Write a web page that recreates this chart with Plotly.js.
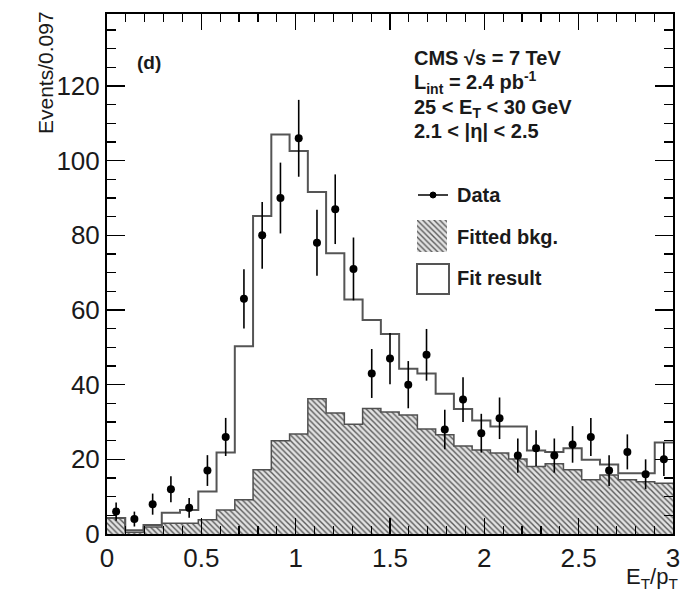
<!DOCTYPE html>
<html>
<head>
<meta charset="utf-8">
<script src="https://cdn.plot.ly/plotly-3.0.1.min.js"></script>
<style>
  html, body { margin: 0; padding: 0; background: #fff; }
  #chart { width: 690px; height: 596px; }
</style>
</head>
<body>
<div id="chart"></div>
<script>
// ---- data (31 bins of width 0.097 in E_T/p_T from 0 to 3) ----
const xMin = 0, xMax = 3, nBins = 31;
const dataCounts = [6, 4, 8, 12, 7, 17, 26, 63, 80, 90, 106, 78, 87, 71, 43, 47,
                    40, 48, 28, 36, 27, 31, 21, 23, 21, 24, 26, 17, 22, 16, 20];
const fitResult  = [4.3, 1, 2.4, 5.7, 6.4, 11.4, 21.8, 50.3, 85.2, 107, 102.6, 91.6, 75.2, 62.8, 57.3, 53.6,
                    44.3, 43, 37.6, 33.5, 30.4, 28.8, 28.8, 22.4, 22, 23, 19.9, 18.6, 16.3, 16.3, 24.5];
const fittedBkg  = [4.3, 0.5, 1.9, 2.9, 2.9, 3.8, 6.4, 9.2, 17.2, 25, 26.8, 36.2, 32.4, 29.4, 33.6, 32.7,
                    31.9, 28.1, 26.6, 23.6, 22.5, 21.7, 20.1, 18.1, 18.8, 17.2, 14.5, 15.8, 14.5, 14, 13.6];
const xTickVals = [0, 0.5, 1, 1.5, 2, 2.5, 3];
const xTickText = ['0', '0.5', '1', '1.5', '2', '2.5', '3'];
const yTickVals = [0, 20, 40, 60, 80, 100, 120];
const yTickText = ['0', '20', '40', '60', '80', '100', '120'];

// ---- derived bin geometry ----
const binW = (xMax - xMin) / nBins;
const centers = dataCounts.map((_, i) => xMin + (i + 0.5) * binW);
const edges = Array.from({length: nBins + 1}, (_, i) => xMin + i * binW);
const stepY = arr => arr.concat([arr[arr.length - 1]]);
const errs = dataCounts.map(v => Math.sqrt(v));

// ---- frame in pixels ----
const W = 690, H = 596;
const L = 107, R = 673, T = 14, B = 534;
const px = x => (x - L) / (R - L);
const py = y => (B - y) / (B - T);

const FONT = 'Liberation Sans, Arial, Helvetica, sans-serif';
const hatch = {shape: '\\', fgcolor: '#5a5a5a', bgcolor: '#e2e2e2', size: 4, solidity: 0.35, fillmode: 'replace'};

const traces = [
  { type: 'bar', x: centers, y: fittedBkg, width: binW,
    marker: {color: '#e2e2e2', pattern: hatch, line: {width: 0}},
    hoverinfo: 'skip', showlegend: false },
  { type: 'scatter', mode: 'lines', x: edges, y: stepY(fittedBkg),
    line: {shape: 'hv', color: '#505050', width: 1.5}, showlegend: false, hoverinfo: 'skip' },
  { type: 'scatter', mode: 'lines', x: edges, y: stepY(fitResult),
    line: {shape: 'hv', color: '#555555', width: 2}, showlegend: false, hoverinfo: 'skip' },
  { type: 'scatter', mode: 'markers', x: centers, y: dataCounts,
    marker: {color: '#000', size: 8},
    error_y: {type: 'data', array: errs, visible: true, width: 0, thickness: 1.6, color: '#000'},
    showlegend: false },
  // legend swatch for the hatched background
  { type: 'bar', x: [0], y: [1], width: 1, xaxis: 'x2', yaxis: 'y2',
    marker: {color: '#e2e2e2', pattern: hatch, line: {width: 0}},
    hoverinfo: 'skip', showlegend: false }
];

const ann = (text, x, y, opts) => Object.assign({
  text: text, xref: 'paper', yref: 'paper', x: px(x), y: py(y),
  xanchor: 'left', yanchor: 'middle', showarrow: false,
  font: {family: FONT, size: 20, color: '#1a1a1a', weight: 'bold'}
}, opts || {});

const annotations = [
  ann('(d)', 135, 62, {font: {family: FONT, size: 19, color: '#1a1a1a', weight: 'bold'}}),
  ann('CMS √s = 7 TeV', 412, 58),
  ann('L<sub>int</sub> = 2.4 pb<sup>-1</sup>', 412, 83),
  ann('25 &lt; E<sub>T</sub> &lt; 30 GeV', 412, 108),
  ann('2.1 &lt; |η| &lt; 2.5', 412, 131),
  ann('Data', 455, 195),
  ann('Fitted bkg.', 455, 237),
  ann('Fit result', 455, 278),
  ann('Events/0.097', 45, 73, {xanchor: 'center', yanchor: 'middle', textangle: -90,
      font: {family: FONT, size: 21, color: '#1a1a1a'}}),
  ann('E<sub>T</sub>/p<sub>T</sub>', 680, 578, {xanchor: 'right',
      font: {family: FONT, size: 22, color: '#1a1a1a'}})
];

const shapes = [
  // Data legend symbol
  {type: 'line', xref: 'paper', yref: 'paper', x0: px(418), x1: px(448), y0: py(195), y1: py(195),
   line: {color: '#000', width: 1.5}},
  {type: 'circle', xref: 'paper', yref: 'paper', x0: px(430), x1: px(436), y0: py(198), y1: py(192),
   fillcolor: '#000', line: {color: '#000', width: 1}},
  // Fit result legend box
  {type: 'rect', xref: 'paper', yref: 'paper', x0: px(417), x1: px(449), y0: py(294), y1: py(264),
   line: {color: '#555', width: 2}, fillcolor: 'rgba(0,0,0,0)'}
];

const axisCommon = {
  showgrid: false, zeroline: false, showline: true, linecolor: '#000', linewidth: 2,
  mirror: 'ticks', ticks: 'inside', tickcolor: '#000', tickwidth: 1.5,
  tickfont: {family: FONT, size: 26, color: '#1a1a1a'}
};

const layout = {
  width: W, height: H,
  margin: {l: L, r: W - R, t: T, b: H - B, pad: 0},
  paper_bgcolor: '#fff', plot_bgcolor: '#fff',
  showlegend: false, bargap: 0,
  xaxis: Object.assign({}, axisCommon, {
    range: [xMin, xMax], tickmode: 'array', tickvals: xTickVals, ticktext: xTickText,
    ticklen: 16, minor: {dtick: 0.1, ticklen: 8, ticks: 'inside', tickcolor: '#000', tickwidth: 1.2}
  }),
  yaxis: Object.assign({}, axisCommon, {
    range: [0, 139.3], tickmode: 'array', tickvals: yTickVals, ticktext: yTickText,
    ticklen: 18, minor: {dtick: 5, ticklen: 9, ticks: 'inside', tickcolor: '#000', tickwidth: 1.2}
  }),
  xaxis2: {domain: [px(417), px(447)], range: [-0.5, 0.5], visible: false, fixedrange: true, anchor: 'y2'},
  yaxis2: {domain: [py(252), py(220)], range: [0, 1], visible: false, fixedrange: true, anchor: 'x2'},
  annotations: annotations,
  shapes: shapes
};

Plotly.newPlot('chart', traces, layout, {staticPlot: true});
</script>
</body>
</html>
